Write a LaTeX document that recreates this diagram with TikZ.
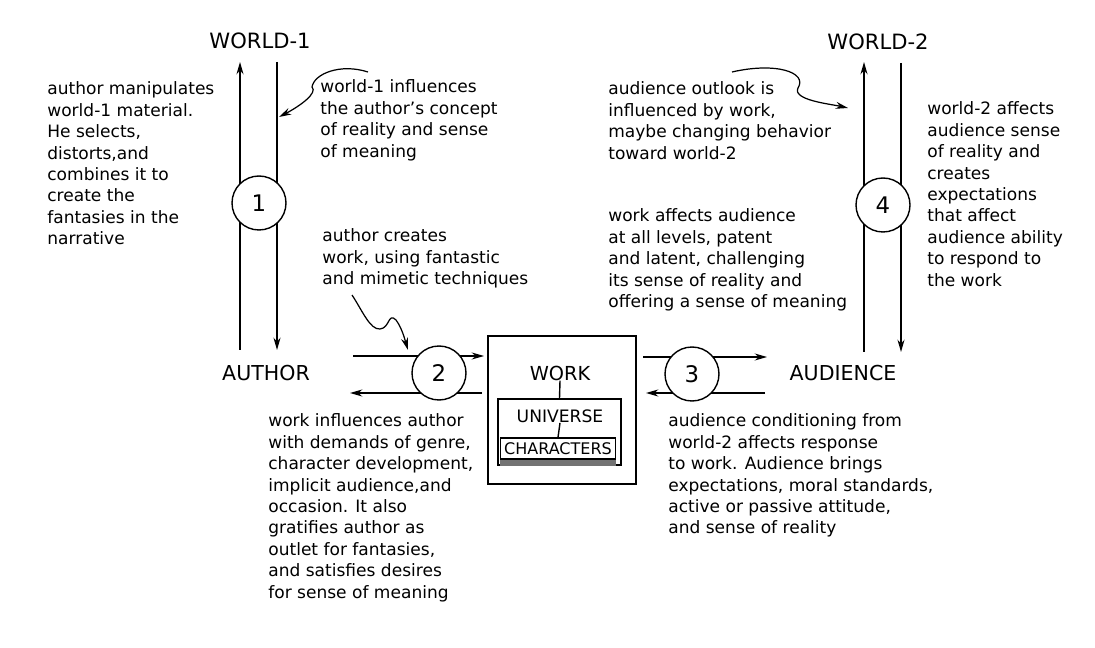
\documentclass[tikz,border=0pt]{standalone}
\usepackage{fontspec}
\setmainfont{DejaVu Sans}
\usetikzlibrary{arrows.meta, positioning}

\begin{document}
\begin{tikzpicture}[
    x=0.02cm, y=-0.02cm,
    every node/.style={inner sep=0pt, text=black},
    note/.style={anchor=north west, align=left, font=\fontsize{9.7}{12.2}\selectfont},
    place/.style={font=\fontsize{11.7}{14}\selectfont},
    world/.style={font=\fontsize{12}{14}\selectfont},
    stage/.style={circle, draw=black, line width=0.8pt, fill=white, minimum size=1.08cm, font=\fontsize{13}{15}\selectfont},
    frame/.style={draw=black, line width=0.8pt},
    line/.style={draw=black, line width=0.8pt},
    arr/.style={line, -{Stealth[length=7pt, width=4pt]}},
    curvy/.style={line, line width=0.7pt, -{Stealth[length=7pt, width=4pt]}},
  ]
  \useasboundingbox (0,0) rectangle (1095,648);

  % the four poles
  \node[world] (world1) at (260,41) {WORLD-1};
  \node[world] (world2) at (878,42) {WORLD-2};
  \node[place] (author) at (266,373) {AUTHOR};
  \node[place] (audience) at (843,373) {AUDIENCE};

  % the work with its nested universe
  \node[frame, minimum width=2.96cm, minimum height=2.96cm] (workbox) at (562,410) {};
  \node[font=\fontsize{11}{13}\selectfont] (work) at (560,373) {WORK};
  \node[frame, minimum width=2.46cm, minimum height=1.32cm] (universe) at (559.5,432) {};
  \node[font=\fontsize{9.75}{12}\selectfont] (univ) at (560,416) {UNIVERSE};
  \node[frame, line width=0.6pt, minimum width=2.3cm, minimum height=0.42cm,
        font=\fontsize{9.1}{11}\selectfont] (chars) at (558,448.5) {CHARACTERS};
  \fill[black!55] (chars.south west) rectangle (chars.south east |- universe.south);
  \draw[line] (work.south) -- (universe.north);
  \draw[line] (univ.south) -- (chars.north);

  % ends of the flow lines
  \coordinate (a1lo) at (240,350);  \coordinate (a1hi) at (240,62);
  \coordinate (b1hi) at (277,62);   \coordinate (b1lo) at (277,350);
  \coordinate (a4lo) at (864,352);  \coordinate (a4hi) at (864,62);
  \coordinate (b4hi) at (901,63);   \coordinate (b4lo) at (901,352);
  \coordinate (a2in) at (353,356);  \coordinate (a2out) at (484,356);
  \coordinate (b2in) at (482,393);  \coordinate (b2out) at (350,393);
  \coordinate (a3in) at (643,357);  \coordinate (a3out) at (767,357);
  \coordinate (b3in) at (765,393);  \coordinate (b3out) at (646,393);

  \draw[arr] (a1lo) -- (a1hi);
  \draw[arr] (b1hi) -- (b1lo);
  \draw[arr] (a4lo) -- (a4hi);
  \draw[arr] (b4hi) -- (b4lo);
  \draw[arr] (a2in) -- (a2out);
  \draw[arr] (b2in) -- (b2out);
  \draw[arr] (a3in) -- (a3out);
  \draw[arr] (b3in) -- (b3out);

  \node[stage] (s1) at (259,203) {1};
  \node[stage] (s2) at (439,373) {2};
  \node[stage] (s3) at (692,374) {3};
  \node[stage] (s4) at (883,205) {4};

  % notes
  \node[note] (n1) at (47,81.5) {author manipulates\\world-1 material.\\He selects,\\distorts,and\\combines it to\\create the\\fantasies in the\\narrative};
  \node[note] (n2) at (320,79.5) {world-1 influences\\the author’s concept\\of reality and sense\\of meaning};
  \node[note] (n3) at (322,228.5) {author creates\\work, using fantastic\\and mimetic techniques};
  \node[note] (n4) at (608,81.5) {audience outlook is\\influenced by work,\\maybe changing behavior\\toward world-2};
  \node[note] (n5) at (608,208.5) {work affects audience\\at all levels, patent\\and latent, challenging\\its sense of reality and\\offering a sense of meaning};
  \node[note] (n6) at (927,101.5) {world-2 affects\\audience sense\\of reality and\\creates\\expectations\\that affect\\audience ability\\to respond to\\the work};
  \node[note] (n7) at (268,413.5) {work influences author\\with demands of genre,\\character development,\\implicit audience,and\\occasion. It also\\gratifies author as\\outlet for fantasies,\\and satisfies desires\\for sense of meaning};
  \node[note] (n8) at (668,413.5) {audience conditioning from\\world-2 affects response\\to work. Audience brings\\expectations, moral standards,\\active or passive attitude,\\and sense of reality};

  % hand-drawn pointers
  \coordinate (q1from) at (368,72);  \coordinate (q1to) at (279,117);
  \coordinate (q4from) at (732,72);  \coordinate (q4to) at (848,108);
  \coordinate (q2from) at (352,295); \coordinate (q2to) at (408,350);
  \draw[curvy] (q1from) .. controls (340,63) and (314,74) .. (312,87)
               .. controls (318,93) and (300,106) .. (q1to);
  \draw[curvy] (q4from) .. controls (775,62) and (808,72) .. (798,88)
               .. controls (792,100) and (830,104) .. (q4to);
  \draw[curvy] (q2from) .. controls (362,310) and (370,330) .. (380,329)
               .. controls (390,328) and (388,312) .. (396,320)
               .. controls (402,328) and (405,340) .. (q2to);
\end{tikzpicture}
\end{document}
